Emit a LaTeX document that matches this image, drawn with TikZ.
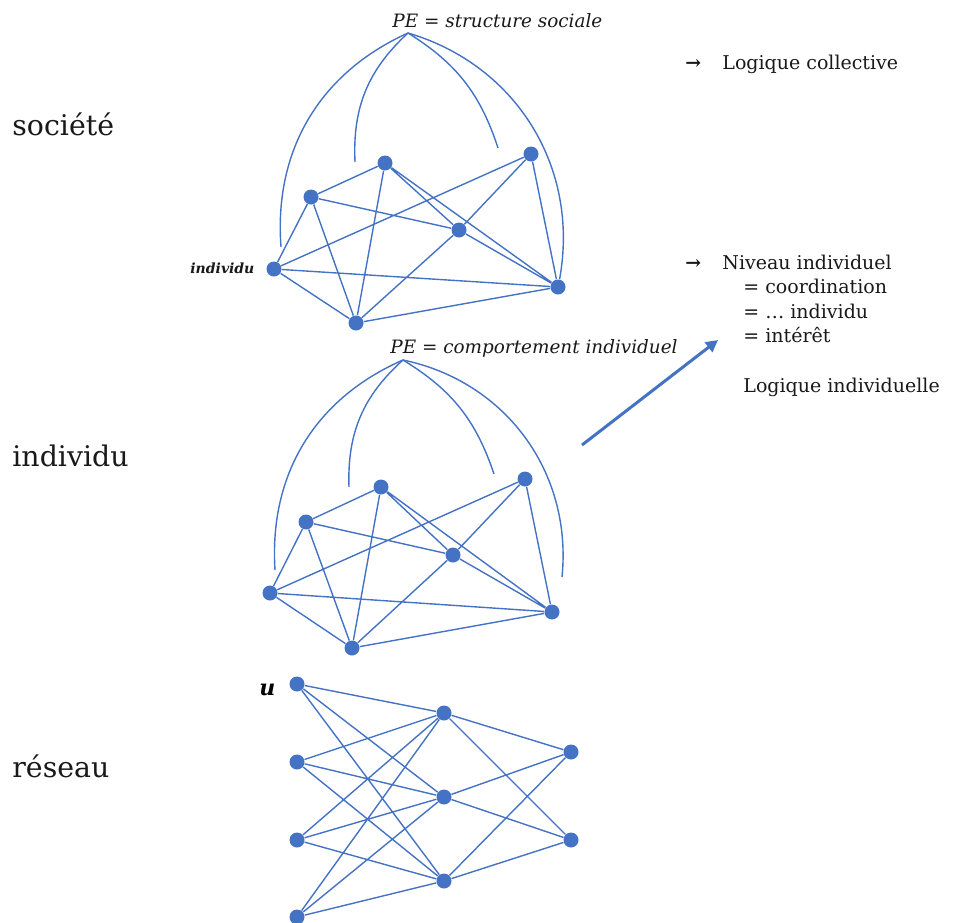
\documentclass[tikz,border=0pt]{standalone}
\usepackage{fontspec}
\setmainfont{DejaVu Serif}
\usetikzlibrary{positioning, arrows.meta}
\definecolor{bleu}{HTML}{4472C4}
\begin{document}
\begin{tikzpicture}[x=0.5pt, y=0.5pt,
    dot/.style={circle, fill=bleu, inner sep=0pt, minimum size=7.5pt},
    lien/.style={draw=bleu, line width=0.7pt},
    niveau/.style={font=\fontsize{14.2}{16}\selectfont, anchor=base west, inner sep=0pt, text=black!90},
    note/.style={font=\fontsize{9.5}{11}\selectfont, anchor=base west, inner sep=0pt, text=black!90},
    pe/.style={font=\fontsize{9.2}{11}\selectfont\itshape, anchor=base west, inner sep=0pt, text=black!90}]
                \useasboundingbox (0,0) rectangle (954,-922);

                % niveaux
                \node[niveau] (soc) at (12,-135) {société};
                \node[niveau] (ind) at (12,-466) {individu};
                \node[niveau] (res) at (12,-777) {réseau};

                % societe
                \node[pe] (pe-s) at (392,-27) {PE = structure sociale};
                \coordinate (pes) at (408,-33);
                \node[dot] (s1) at (385,-163) {};
                \node[dot] (s2) at (311,-197) {};
                \node[dot] (s3) at (274,-269) {};
                \node[dot] (s4) at (356,-323) {};
                \node[dot] (s5) at (459,-230) {};
                \node[dot] (s6) at (531,-154) {};
                \node[dot] (s7) at (558,-287) {};
                \node[pe, font=\fontsize{7}{8}\selectfont\bfseries\itshape] (indiv) at (190,-273) {individu};
                \coordinate (sa) at (281,-247);
                \coordinate (sb) at (355,-162);
                \coordinate (sc) at (498,-148);

                \draw[lien] (s2) -- (s1) (s2) -- (s5) (s2) -- (s3) (s2) -- (s4)
                    (s1) -- (s4) (s1) -- (s5) (s1) -- (s7)
                    (s3) -- (s6) (s3) -- (s7) (s3) -- (s4)
                    (s4) -- (s5) (s5) -- (s6) (s4) -- (s7) (s5) -- (s7) (s6) -- (s7);
                \draw[lien] (pes) to [bend right=35] (sa);
                \draw[lien] (pes) to [bend right=25] (sb);
                \draw[lien] (pes) to [bend left=20] (sc);
                \draw[lien] (pes) to [bend left=42] (s7);

                % individu
                \node[pe] (pe-i) at (390,-353) {PE = comportement individuel};
                \coordinate (pei) at (403,-360);
                \node[dot] (i1) at (381,-487) {};
                \node[dot] (i2) at (306,-522) {};
                \node[dot] (i3) at (270,-593) {};
                \node[dot] (i4) at (352,-648) {};
                \node[dot] (i5) at (453,-555) {};
                \node[dot] (i6) at (525,-479) {};
                \node[dot] (i7) at (552,-612) {};
                \coordinate (ia) at (275,-570);
                \coordinate (ib) at (349,-487);
                \coordinate (ic) at (494,-474);
                \coordinate (id) at (562,-577);

                \draw[lien] (i2) -- (i1) (i2) -- (i5) (i2) -- (i3) (i2) -- (i4)
                    (i1) -- (i4) (i1) -- (i5) (i1) -- (i7)
                    (i3) -- (i6) (i3) -- (i7) (i3) -- (i4)
                    (i4) -- (i5) (i5) -- (i6) (i4) -- (i7) (i5) -- (i7) (i6) -- (i7);
                \draw[lien] (pei) to [bend right=35] (ia);
                \draw[lien] (pei) to [bend right=25] (ib);
                \draw[lien] (pei) to [bend left=20] (ic);
                \draw[lien] (pei) to [bend left=42] (id);

                % reseau
                \node[dot] (e1) at (297,-684) {};
                \node[dot] (e2) at (297,-762) {};
                \node[dot] (e3) at (297,-840) {};
                \node[dot] (e4) at (297,-917) {};
                \node[dot] (c1) at (444,-713) {};
                \node[dot] (c2) at (444,-797) {};
                \node[dot] (c3) at (444,-881) {};
                \node[dot] (o1) at (571,-752) {};
                \node[dot] (o2) at (571,-840) {};
                \node[pe, font=\fontsize{11}{12}\selectfont\bfseries\itshape, text=black] (u) at (259,-695) {u};

                \draw[lien] (e1) -- (c1) (e1) -- (c2) (e1) -- (c3)
                    (e2) -- (c1) (e2) -- (c2) (e2) -- (c3)
                    (e3) -- (c1) (e3) -- (c2) (e3) -- (c3)
                    (e4) -- (c1) (e4) -- (c2) (e4) -- (c3);
                \draw[lien] (c1) -- (o1) (c1) -- (o2) (c2) -- (o1) (c2) -- (o2)
                    (c3) -- (o1) (c3) -- (o2);

                % logiques
                \coordinate (fa) at (582,-445);
                \coordinate (fb) at (718,-340);
                \draw[-{Triangle[length=6pt, width=6pt]}, bleu, line width=1.5pt] (fa) -- (fb);

                \node[note] (coll) at (685,-69) {\makebox[18.5pt][l]{\textbf{→}}Logique collective};
                \node[note] (niv) at (685,-269) {\makebox[18.5pt][l]{\textbf{→}}Niveau individuel};
                \node[note] (coord) at (743,-293) {= coordination};
                \node[note] (dots) at (743,-318) {= \dots{} individu};
                \node[note] (inter) at (743,-342) {= intérêt};
                \node[note] (lind) at (743,-392) {Logique individuelle};
            \end{tikzpicture}
\end{document}
